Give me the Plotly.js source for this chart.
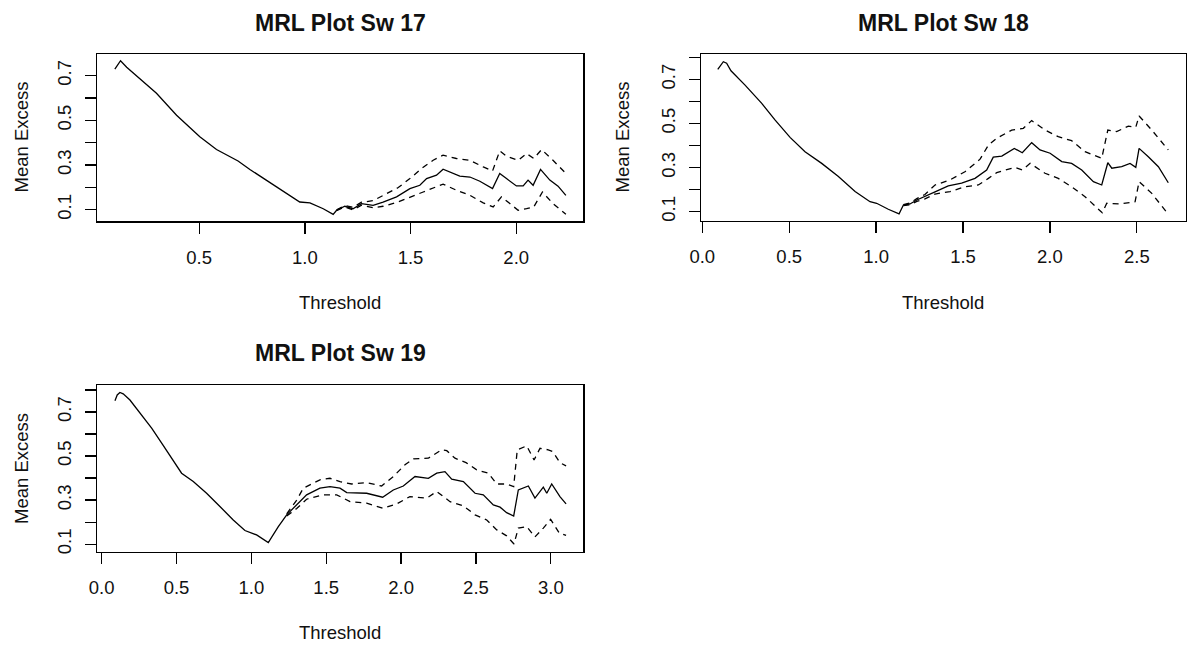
<!DOCTYPE html>
<html>
<head>
<meta charset="utf-8">
<script src="https://cdn.plot.ly/plotly-3.0.1.min.js"></script>
<style>html,body{margin:0;padding:0;background:#fff;}#chart{width:1187px;height:648px;}</style>
</head>
<body>
<div id="chart"></div>
<script>
// ---------- Panel titles ----------
var panelTitles = ["MRL Plot Sw 17", "MRL Plot Sw 18", "MRL Plot Sw 19"];
var xAxisLabel = "Threshold";
var yAxisLabel = "Mean Excess";

// ---------- Sw 17 ----------
var sw17_x = [0.101,0.128,0.157,0.188,0.228,0.298,0.393,0.503,0.582,0.684,0.740,0.843,0.929,0.976,1.024,1.087,1.134,1.150,1.189,1.228,1.268,1.323,1.370,1.434,1.497,1.544,1.576,1.623,1.654,1.702,1.733,1.781,1.828,1.888,1.922,1.954,2.001,2.033,2.056,2.080,2.115,2.159,2.198,2.235];
var sw17_me = [0.729,0.767,0.738,0.713,0.681,0.621,0.523,0.426,0.369,0.318,0.280,0.217,0.164,0.134,0.130,0.104,0.079,0.097,0.115,0.104,0.127,0.119,0.134,0.157,0.194,0.209,0.239,0.254,0.281,0.262,0.250,0.246,0.227,0.194,0.262,0.239,0.206,0.206,0.232,0.209,0.280,0.232,0.205,0.164];
var sw17_up_x = [1.150,1.189,1.228,1.268,1.323,1.378,1.442,1.497,1.552,1.607,1.654,1.717,1.781,1.844,1.888,1.922,1.954,2.009,2.049,2.083,2.120,2.174,2.235];
var sw17_up = [0.099,0.118,0.110,0.133,0.140,0.169,0.199,0.239,0.284,0.321,0.344,0.329,0.321,0.291,0.273,0.363,0.339,0.321,0.351,0.329,0.369,0.321,0.262];
var sw17_lo_x = [1.150,1.189,1.228,1.268,1.323,1.370,1.434,1.497,1.560,1.654,1.717,1.781,1.844,1.891,1.930,1.970,2.009,2.049,2.083,2.124,2.174,2.235];
var sw17_lo = [0.095,0.112,0.099,0.120,0.108,0.115,0.132,0.157,0.179,0.214,0.187,0.164,0.130,0.112,0.157,0.127,0.097,0.104,0.112,0.179,0.127,0.079];

// ---------- Sw 18 ----------
var sw18_x = [0.089,0.121,0.140,0.165,0.246,0.342,0.418,0.505,0.591,0.687,0.783,0.879,0.965,1.003,1.070,1.132,1.157,1.195,1.234,1.281,1.339,1.415,1.492,1.569,1.636,1.674,1.723,1.795,1.841,1.895,1.943,2.001,2.068,2.125,2.183,2.250,2.298,2.333,2.356,2.413,2.461,2.494,2.513,2.566,2.624,2.681];
var sw18_me = [0.745,0.780,0.773,0.739,0.674,0.591,0.516,0.437,0.372,0.319,0.259,0.191,0.145,0.138,0.111,0.090,0.130,0.135,0.153,0.168,0.190,0.217,0.229,0.251,0.289,0.347,0.352,0.387,0.367,0.413,0.380,0.365,0.327,0.319,0.289,0.236,0.221,0.322,0.297,0.304,0.319,0.301,0.387,0.349,0.304,0.231];
var sw18_up_x = [1.157,1.195,1.234,1.281,1.339,1.425,1.511,1.598,1.646,1.694,1.780,1.847,1.895,1.972,2.048,2.125,2.202,2.298,2.333,2.384,2.451,2.494,2.513,2.586,2.681];
var sw18_up = [0.132,0.139,0.159,0.178,0.221,0.244,0.281,0.338,0.402,0.433,0.470,0.478,0.513,0.470,0.440,0.422,0.372,0.342,0.470,0.463,0.488,0.483,0.534,0.470,0.380];
var sw18_lo_x = [1.157,1.195,1.234,1.281,1.339,1.425,1.511,1.588,1.646,1.694,1.799,1.841,1.886,1.972,2.048,2.125,2.202,2.301,2.327,2.403,2.490,2.513,2.586,2.681];
var sw18_lo = [0.128,0.131,0.147,0.158,0.180,0.191,0.213,0.221,0.251,0.277,0.301,0.289,0.319,0.274,0.251,0.213,0.168,0.095,0.138,0.135,0.145,0.236,0.183,0.088];

// ---------- Sw 19 ----------
var sw19_x = [0.089,0.104,0.122,0.144,0.189,0.256,0.334,0.401,0.478,0.534,0.612,0.701,0.790,0.879,0.957,1.035,1.113,1.136,1.180,1.236,1.303,1.369,1.458,1.525,1.592,1.637,1.770,1.877,1.948,2.015,2.093,2.182,2.238,2.293,2.338,2.416,2.494,2.549,2.616,2.661,2.705,2.752,2.783,2.850,2.894,2.950,2.973,3.006,3.061,3.102];
var sw19_me = [0.751,0.777,0.788,0.782,0.754,0.694,0.626,0.558,0.482,0.422,0.384,0.331,0.271,0.210,0.162,0.142,0.107,0.134,0.180,0.233,0.278,0.324,0.354,0.361,0.354,0.334,0.331,0.313,0.346,0.364,0.407,0.399,0.422,0.429,0.395,0.384,0.331,0.324,0.278,0.268,0.243,0.228,0.346,0.364,0.309,0.359,0.331,0.373,0.316,0.283];
var sw19_up_x = [1.236,1.303,1.347,1.458,1.525,1.592,1.670,1.770,1.870,1.948,2.026,2.082,2.182,2.271,2.305,2.360,2.434,2.505,2.583,2.639,2.705,2.752,2.776,2.839,2.888,2.928,2.983,3.013,3.061,3.102];
var sw19_up = [0.238,0.300,0.354,0.392,0.399,0.384,0.373,0.379,0.364,0.407,0.460,0.487,0.490,0.528,0.524,0.490,0.470,0.437,0.422,0.373,0.373,0.361,0.528,0.546,0.482,0.535,0.528,0.520,0.470,0.455];
var sw19_lo_x = [1.236,1.303,1.369,1.480,1.570,1.659,1.770,1.877,1.971,2.059,2.171,2.238,2.327,2.416,2.494,2.572,2.639,2.705,2.754,2.783,2.839,2.894,2.950,2.999,3.057,3.102];
var sw19_lo = [0.228,0.262,0.304,0.324,0.324,0.293,0.286,0.263,0.283,0.316,0.309,0.339,0.293,0.274,0.233,0.210,0.165,0.138,0.101,0.173,0.180,0.133,0.173,0.213,0.150,0.140];

// ---------- Axis ticks ----------
var yTickVals = [0.1,0.2,0.3,0.4,0.5,0.6,0.7,0.8];
var yTickText = ["0.1","","0.3","","0.5","","0.7",""];

// ---------- Build ----------
var W = 1187, H = 648;
var FONT = "Liberation Sans, Arial, sans-serif";
function px(v){ return v / W; }
function py(v){ return 1 - v / H; }

var solid = {color:"#000", width:1.3};
var dashed = {color:"#000", width:1.3, dash:"6px,5px"};

function series(x, y, line, xa, ya){
  return {type:"scatter", mode:"lines", x:x, y:y, line:line, xaxis:xa, yaxis:ya, hoverinfo:"skip", showlegend:false};
}

var data = [
  series(sw17_up_x, sw17_up, dashed, "x", "y"),
  series(sw17_lo_x, sw17_lo, dashed, "x", "y"),
  series(sw17_x, sw17_me, solid, "x", "y"),
  series(sw18_up_x, sw18_up, dashed, "x2", "y2"),
  series(sw18_lo_x, sw18_lo, dashed, "x2", "y2"),
  series(sw18_x, sw18_me, solid, "x2", "y2"),
  series(sw19_up_x, sw19_up, dashed, "x3", "y3"),
  series(sw19_lo_x, sw19_lo, dashed, "x3", "y3"),
  series(sw19_x, sw19_me, solid, "x3", "y3")
];

function xax(domain, range, anchor){
  return {domain:domain, range:range, anchor:anchor, showgrid:false, zeroline:false,
    showline:true, mirror:true, linecolor:"#000", linewidth:1.5,
    ticks:"outside", ticklen:11, tickwidth:1.3, tickcolor:"#000",
    tick0:0, dtick:0.5, tickformat:".1f", ticklabelstandoff:8,
    tickfont:{family:FONT, size:18.5, color:"#111"}, fixedrange:true};
}
function yax(domain, range, anchor){
  return {domain:domain, range:range, anchor:anchor, showgrid:false, zeroline:false,
    showline:true, mirror:true, linecolor:"#000", linewidth:1.5,
    ticks:"outside", ticklen:11, tickwidth:1.3, tickcolor:"#000",
    tickmode:"array", tickvals:yTickVals, ticktext:yTickText, tickangle:-90, ticklabelstandoff:6,
    tickfont:{family:FONT, size:18.5, color:"#111"}, fixedrange:true};
}

var p1x = [px(97.3), px(583)], p1y = [py(221), py(54)];
var p2x = [px(701), px(1185.5)], p2y = [py(220.7), py(54)];
var p3x = [px(97.3), px(583)], p3y = [py(551.7), py(385)];

function ann(text, x, y, size, angle){
  return {text:text, x:x, y:y, xref:"paper", yref:"paper", xanchor:"center", yanchor:"middle",
    showarrow:false, textangle:angle||0, font:{family:FONT, size:size, color:"#111"}};
}

var layout = {
  width:W, height:H, margin:{l:0,r:0,t:0,b:0}, paper_bgcolor:"#fff", plot_bgcolor:"#fff",
  showlegend:false,
  xaxis: xax(p1x, [0.018, 2.316], "y"),
  yaxis: yax(p1y, [0.049, 0.797], "x"),
  xaxis2: xax(p2x, [-0.0075, 2.780], "y2"),
  yaxis2: yax(p2y, [0.059, 0.815], "x2"),
  xaxis3: xax(p3x, [-0.029, 3.215], "y3"),
  yaxis3: yax(p3y, [0.066, 0.822], "x3"),
  annotations: [
    ann("<b>"+panelTitles[0]+"</b>", px(340), py(23), 23),
    ann("<b>"+panelTitles[1]+"</b>", px(943), py(23), 23),
    ann("<b>"+panelTitles[2]+"</b>", px(340), py(353), 23),
    ann(xAxisLabel, px(340), py(302), 18.5),
    ann(xAxisLabel, px(943), py(302), 18.5),
    ann(xAxisLabel, px(340), py(632), 18.5),
    ann(yAxisLabel, px(21), py(137.5), 18.5, -90),
    ann(yAxisLabel, px(622), py(137.5), 18.5, -90),
    ann(yAxisLabel, px(21), py(469), 18.5, -90)
  ]
};

Plotly.newPlot("chart", data, layout, {staticPlot:true, displayModeBar:false});
</script>
</body>
</html>
